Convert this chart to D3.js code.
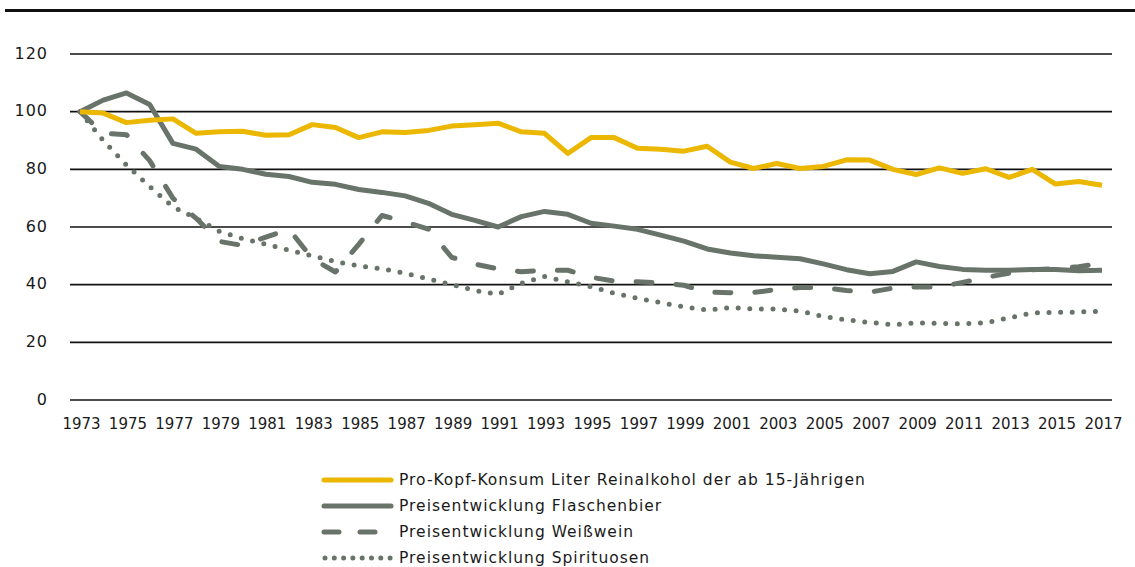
<!DOCTYPE html>
<html>
<head>
<meta charset="utf-8">
<script src="https://cdn.jsdelivr.net/npm/d3@7"></script>
<style>
  body { margin: 0; background: #fff; }
  svg text { font-family: "DejaVu Sans", sans-serif; fill: #1a1a1a; }
</style>
</head>
<body>
<div id="chart"></div>
<script>
let years = d3.range(1973, 2018)

let konsum = [100, 99.5, 96.2, 97, 97.5, 92.5, 93, 93.2, 91.8, 92, 95.5, 94.5, 91, 93, 92.8, 93.5, 95, 95.5, 96,
  93, 92.5, 85.5, 91, 91, 87.3, 87, 86.3, 88, 82.5, 80.3, 82, 80.3, 81, 83.3, 83.2, 80, 78.2, 80.5, 78.6, 80.2, 77.2, 80, 74.9, 75.8, 74.5]
let bier = [100, 104, 106.5, 102.5, 89, 87, 81, 80, 78.3, 77.5, 75.5, 74.8, 73, 72, 70.8, 68.2, 64.4, 62.3, 60,
  63.6, 65.4, 64.4, 61.3, 60.3, 59.2, 57.2, 55.1, 52.4, 51, 50, 49.5, 49, 47.2, 45.2, 43.8, 44.6, 47.9, 46.3, 45.3, 45, 45, 45.3, 45.3, 44.8, 45]
let weisswein = [100, 92.5, 92, 83, 70, 63, 55, 53.6, 56.5, 59.2, 49, 44.4, 54, 64, 61.8, 59.3, 49.5, 47.1, 45.5,
  44.5, 45, 45, 42.6, 41.2, 41, 40.6, 39.8, 37.4, 37.2, 37.3, 38.3, 39, 39, 38, 37.4, 38.8, 39.2, 39.2, 40.8, 42.5, 44, 45.2, 45.5, 46.2, 47.5]
let spirituosen = [100, 90, 81.5, 74, 67, 63, 58.5, 56, 54, 52, 50, 48, 46.5, 45.5, 44, 42, 40, 38, 36.6,
  40.5, 42.8, 41, 39.3, 37, 35.3, 33.8, 32.3, 31.2, 32, 31.6, 31.6, 30.8, 29, 27.8, 26.9, 26.1, 26.8, 26.6, 26.4, 26.8, 28.5, 30.2, 30.4, 30.5, 30.8]

let yTicks = [0, 20, 40, 60, 80, 100, 120]
let xTicks = d3.range(1973, 2018, 2)

let seriesNames = [
  "Pro-Kopf-Konsum Liter Reinalkohol der ab 15-Jährigen",
  "Preisentwicklung Flaschenbier",
  "Preisentwicklung Weißwein",
  "Preisentwicklung Spirituosen"
]
let seriesValues = [konsum, bier, weisswein, spirituosen]

let width = 1135, height = 567
let yellow = "#ebb700", grey = "#68736a"
let styles = [
  { color: yellow, dash: null, cap: "butt", w: 5 },
  { color: grey, dash: null, cap: "butt", w: 5 },
  { color: grey, dash: "16,24", cap: "round", w: 5 },
  { color: grey, dash: "0,11.6", cap: "round", w: 5 }
]

let svg = d3.select("#chart").append("svg")
  .attr("width", width)
  .attr("height", height)

let x = d3.scaleLinear().domain([1973, 2017]).range([80, 1102])
let y = d3.scaleLinear().domain([0, 120]).range([400, 54])

// top rule
svg.append("line")
  .attr("x1", 5).attr("x2", width)
  .attr("y1", 10.5).attr("y2", 10.5)
  .attr("stroke", "#111").attr("stroke-width", 3)

// gridlines
svg.append("g").selectAll("line")
  .data(yTicks)
  .enter()
  .append("line")
  .attr("x1", 70).attr("x2", 1112)
  .attr("y1", d => y(d)).attr("y2", d => y(d))
  .attr("stroke", "#111").attr("stroke-width", 1.6)

// y axis labels
let gY = svg.append("g")
  .attr("transform", "translate(48,-1)")
  .call(d3.axisLeft(y).tickValues(yTicks).tickSize(0).tickPadding(0))
gY.select(".domain").remove()
gY.selectAll("text")
  .style("font-size", "16px")
  .style("letter-spacing", "1px")
  .style("font-family", "DejaVu Sans")
  .attr("fill", "#1a1a1a")

// x axis labels
let gX = svg.append("g")
  .attr("transform", "translate(1,418)")
  .call(d3.axisBottom(x).tickValues(xTicks).tickFormat(d3.format("d")).tickSize(0).tickPadding(0))
gX.select(".domain").remove()
gX.selectAll("text").style("font-size", "15px").style("font-family", "DejaVu Sans").attr("fill", "#1a1a1a")

let line = d3.line()
  .x((d, i) => x(years[i]))
  .y(d => y(d))

// draw in order: spirits, wine, beer, consumption on top
let order = [3, 2, 1, 0]
order.forEach(k => {
  let s = styles[k]
  svg.append("path")
    .datum(seriesValues[k])
    .attr("d", line)
    .attr("fill", "none")
    .attr("stroke", s.color)
    .attr("stroke-width", s.w)
    .attr("stroke-linejoin", "round")
    .attr("stroke-linecap", s.cap)
    .attr("stroke-dasharray", s.dash)
})

// legend
let legend = svg.append("g")
  .attr("transform", "translate(322,480)")

let rows = legend.selectAll("g")
  .data(seriesNames)
  .enter()
  .append("g")
  .attr("transform", (d, i) => "translate(0," + (i * 26) + ")")

rows.append("line")
  .attr("x1", (d, i) => i == 3 ? 3 : 2)
  .attr("x2", 69)
  .attr("y1", 0).attr("y2", 0)
  .attr("stroke", (d, i) => styles[i].color)
  .attr("stroke-width", 5)
  .attr("stroke-linecap", "round")
  .attr("stroke-dasharray", (d, i) => i == 2 ? "15,21" : (i == 3 ? "0,9.3" : null))

rows.append("text")
  .attr("x", 77)
  .attr("y", 0)
  .attr("dy", "0.35em")
  .style("font-size", "15.5px")
  .style("letter-spacing", "1px")
  .text(d => d)
</script>
</body>
</html>
